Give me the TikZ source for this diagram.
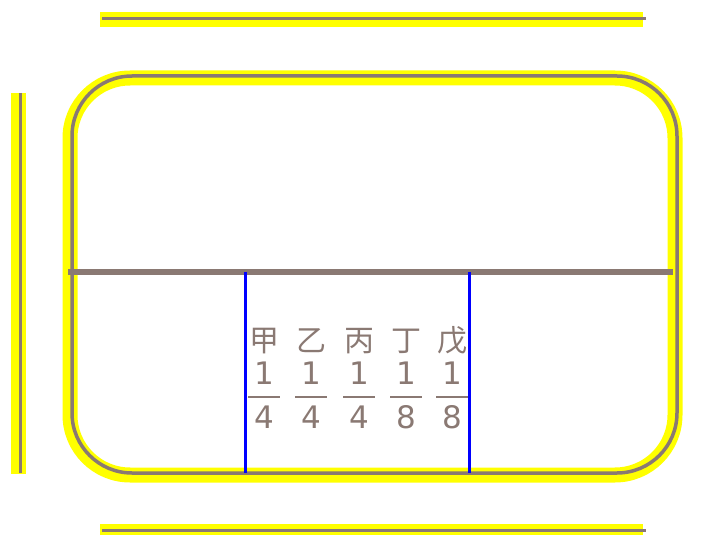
\documentclass[tikz,border=0pt]{standalone}
\usepackage{fontspec}
\setmainfont{Noto Sans CJK SC}
\newfontfamily\digitfont{DejaVu Sans}
\usepackage{tikz}

\definecolor{taupe}{RGB}{138,121,115}
\definecolor{hilite}{RGB}{255,255,0}
\definecolor{divider}{RGB}{0,0,255}
\tikzset{
  glow/.style={draw=hilite, line width=15pt},
  rail/.style={draw=taupe, line width=3.5pt},
  split/.style={draw=divider, line width=3pt},
  lbl/.style={text=taupe, font=\fontsize{30}{30}\selectfont, inner sep=0pt, anchor=base},
  digit/.style={lbl, font=\digitfont\fontsize{31}{31}\selectfont},
  bar/.style={draw=taupe, line width=1.5pt}
}

\begin{document}
\begin{tikzpicture}[x=1pt, y=-1pt]
\useasboundingbox (0,0) rectangle (716,535);
\draw[glow] (100,19.5) -- (643,19.5);
\draw[rail] (102,18.5) -- (646,18.5);
\draw[glow] (18.5,93) -- (18.5,474);
\draw[rail] (20.5,93) -- (20.5,473);
\draw[glow] (100,531.5) -- (643,531.5);
\draw[rail] (102,530.5) -- (646,530.5);
\draw[glow, rounded corners=60pt] (70,78) rectangle (675,475);
\draw[rail, rounded corners=60pt] (72,76) rectangle (677,473);
\coordinate (l) at (68,272);
\coordinate (r) at (673,272);
\draw[draw=taupe, line width=5.5pt] (l) -- (r);
\draw[split] (245,272) -- (245,473);
\draw[split] (469,272) -- (469,473);
\foreach \ch/\d/\x [count=\i] in {甲/4/264, 乙/4/311, 丙/4/359, 丁/8/406, 戊/8/452} {
  \node[lbl] (ch\i) at (\x,351) {\ch};
  \node[digit] (num\i) at (\x,384) {1};
  \node[digit] (den\i) at (\x,428) {\d};
  \draw[bar] ([xshift=-16pt]den\i.center |- 0,397) -- ([xshift=16pt]den\i.center |- 0,397);
}
\end{tikzpicture}
\end{document}
